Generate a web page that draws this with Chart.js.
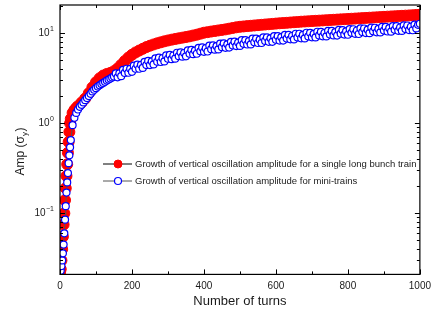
<!DOCTYPE html>
<html>
<head>
<meta charset="utf-8">
<script src="https://cdn.jsdelivr.net/npm/chart.js@4.4.1/dist/chart.umd.min.js"></script>
<style>
  html, body { margin: 0; padding: 0; background: #fff; }
  #wrap { width: 437px; height: 313px; position: relative; }
</style>
</head>
<body>
<div id="wrap"><canvas id="ampChart"></canvas></div>
<script>
// single long bunch train (red, filled)
const turnsLong = [0,2,4,6,8,10,12,14,16,18,20,22,24,26,28,30,35,40,45,50,
  60,70,80,90,100,110,120,130,140,150,160,170,180,190,200,210,220,230,240,250,
  260,270,280,290,300,310,320,330,340,350,360,370,380,390,400,410,420,430,440,450,
  460,470,480,490,500,510,520,530,540,550,560,570,580,590,600,610,620,630,640,650,
  660,670,680,690,700,710,720,730,740,750,760,770,780,790,800,810,820,830,840,850,
  860,870,880,890,900,910,920,930,940,950,960,970,980,990,1000];
const ampLongTrain = [0.022,0.024,0.03,0.04,0.055,0.075,0.1,0.14,0.19,0.26,0.35,0.47,0.62,0.8,1.0,1.12,
  1.3,1.4,1.48,1.55,
  1.7,1.88,2.15,2.5,2.85,3.15,3.38,3.52,3.62,3.78,
  4.05,4.45,4.9,5.35,5.75,6.1,6.4,6.7,7.0,7.25,
  7.48,7.7,7.9,8.1,8.28,8.45,8.6,8.75,8.9,9.05,
  9.2,9.4,9.6,9.85,10.1,10.25,10.4,10.55,10.7,10.85,
  11.0,11.2,11.4,11.6,11.75,11.85,11.95,12.05,12.15,12.25,
  12.35,12.45,12.55,12.65,12.75,12.85,12.93,13.0,13.1,13.2,
  13.28,13.38,13.45,13.52,13.6,13.68,13.75,13.82,13.9,13.97,
  14.05,14.12,14.2,14.28,14.35,14.43,14.5,14.58,14.66,14.74,
  14.82,14.9,14.98,15.06,15.14,15.22,15.3,15.38,15.46,15.54,
  15.62,15.7,15.8,15.9,16.0];

// mini-trains (blue, open), sampled more often
const turnsMini = [0,2,4,6,8,10,12,14,16,18,20,22,24,26,28,30,35,40,45,50,55,
  60,65,70,75,80,85,90,95,100,105,110,115,120,125,130,135,140,145,150,
  155,160,165,170,175,180,185,190,195,200,205,210,215,220,225,230,235,240,245,250,
  255,260,265,270,275,280,285,290,295,300,305,310,315,320,325,330,335,340,345,350,
  355,360,365,370,375,380,385,390,395,400,405,410,415,420,425,430,435,440,445,450,
  455,460,465,470,475,480,485,490,495,500,505,510,515,520,525,530,535,540,545,550,
  555,560,565,570,575,580,585,590,595,600,605,610,615,620,625,630,635,640,645,650,
  655,660,665,670,675,680,685,690,695,700,705,710,715,720,725,730,735,740,745,750,
  755,760,765,770,775,780,785,790,795,800,805,810,815,820,825,830,835,840,845,850,
  855,860,865,870,875,880,885,890,895,900,905,910,915,920,925,930,935,940,945,950,
  955,960,965,970,975,980,985,990,995,1000];
const ampMiniTrains = [0.021,0.023,0.026,0.03,0.036,0.045,0.06,0.085,0.12,0.17,0.22,0.28,0.36,0.44,0.54,0.65,
  0.95,1.15,1.3,1.42,1.52,
  1.6,1.7,1.8,1.9,2.0,2.12,2.25,2.35,2.45,2.55,2.63,2.72,2.8,2.88,2.97,3.05,3.13,3.22,3.3,
  3.57,3.23,3.58,3.33,3.91,3.61,4.02,3.63,4.01,3.72,
  4.35,4.02,4.46,4.02,4.44,4.11,4.8,4.42,4.91,4.42,
  4.86,4.49,5.24,4.81,5.33,4.78,5.26,4.85,5.65,5.19,
  5.73,5.14,5.64,5.2,6.05,5.54,6.12,5.48,6.01,5.53,
  6.44,5.9,6.51,5.84,6.4,5.9,6.85,6.28,6.93,6.2,
  6.79,6.25,7.25,6.63,7.31,6.54,7.16,6.58,7.64,6.98,
  7.69,6.87,7.51,6.9,8.0,7.3,8.04,7.18,7.85,7.21,
  8.35,7.61,8.37,7.47,8.16,7.49,8.67,7.91,8.69,7.76,
  8.46,7.76,8.97,8.18,8.98,8.01,8.74,8.01,9.26,8.44,
  9.27,8.26,9.01,8.26,9.55,8.7,9.56,8.52,9.29,8.51,
  9.83,8.95,9.83,8.75,9.54,8.73,10.09,9.19,10.08,8.98,
  9.78,8.96,10.35,9.42,10.34,9.2,10.03,9.18,10.6,9.65,
  10.58,9.42,10.26,9.38,10.83,9.86,10.81,9.62,10.47,9.58,
  11.06,10.06,11.03,9.81,10.68,9.77,11.28,10.26,11.25,10.01,
  10.9,9.97,11.51,10.47,11.47,10.21,11.11,10.16,11.73,10.67,
  11.7,10.41,11.33,10.36,11.96,10.87,11.92,10.6,11.54,10.56,
  12.18,11.08,12.14,10.8,11.76,10.75,12.41,11.28,12.36,12.7];

const seriesNames = [
  'Growth of vertical oscillation amplitude for a single long bunch train',
  'Growth of vertical oscillation amplitude for mini-trains'
];
const xTickStep = 200;
const yDecades = [0.1, 1, 10];

const FONT = 'Arial, "Liberation Sans", sans-serif';
const INK = '#1a1a1a';

// box, inward ticks, log labels, y title and legend
const framePlugin = {
  id: 'frame',
  afterDatasetsDraw(chart) {
    const ctx = chart.ctx;
    const a = chart.chartArea;
    const xs = chart.scales.x, ys = chart.scales.y;
    ctx.save();
    ctx.strokeStyle = '#000';
    ctx.lineWidth = 1.2;
    ctx.strokeRect(a.left, a.top, a.right - a.left, a.bottom - a.top);

    ctx.lineWidth = 1;
    ctx.beginPath();
    for (let t = 0; t <= 1000; t += 100) {
      const px = Math.round(xs.getPixelForValue(t)) + 0.5;
      const len = (t % 200 === 0) ? 5 : 3;
      ctx.moveTo(px, a.bottom); ctx.lineTo(px, a.bottom - len);
      ctx.moveTo(px, a.top); ctx.lineTo(px, a.top + len);
    }
    for (let d = 0.01; d < 100; d *= 10) {
      for (let k = 1; k <= 9; k++) {
        const v = d * k;
        if (v < ys.min || v > ys.max) continue;
        const py = Math.round(ys.getPixelForValue(v)) + 0.5;
        const len = k === 1 ? 5 : 3;
        ctx.moveTo(a.left, py); ctx.lineTo(a.left + len, py);
        ctx.moveTo(a.right, py); ctx.lineTo(a.right - len, py);
      }
    }
    ctx.stroke();

    // y tick labels 10^n
    ctx.fillStyle = INK;
    ctx.textBaseline = 'middle';
    yDecades.forEach(v => {
      const py = ys.getPixelForValue(v);
      const exp = String(Math.round(Math.log10(v))).replace('-', '\u2212');
      ctx.font = '7px ' + FONT;
      const ew = ctx.measureText(exp).width;
      const right = a.left - 6;
      ctx.textAlign = 'left';
      ctx.fillText(exp, right - ew, py - 4);
      ctx.font = '10px ' + FONT;
      ctx.textAlign = 'right';
      ctx.fillText('10', right - ew - 0.5, py);
    });

    // y title: Amp (σ_y)
    ctx.save();
    ctx.translate(21, (a.top + a.bottom) / 2 + 12);
    ctx.rotate(-Math.PI / 2);
    ctx.textAlign = 'left';
    ctx.textBaseline = 'middle';
    const big = '12px ' + FONT, small = '8px ' + FONT;
    ctx.font = big;
    const w1 = ctx.measureText('Amp (\u03c3').width;
    const w3 = ctx.measureText(')').width;
    ctx.font = small;
    const w2 = ctx.measureText('y').width;
    let x0 = -(w1 + w2 + w3) / 2;
    ctx.font = big;
    ctx.fillText('Amp (\u03c3', x0, 0);
    ctx.font = small;
    ctx.fillText('y', x0 + w1, 4);
    ctx.font = big;
    ctx.fillText(')', x0 + w1 + w2 + 0.5, 0);
    ctx.restore();

    // legend
    const rows = [164, 181];
    chart.data.datasets.forEach((ds, i) => {
      const y = rows[i];
      ctx.strokeStyle = ds.borderColor;
      ctx.lineWidth = 1;
      ctx.beginPath();
      ctx.moveTo(103, y); ctx.lineTo(132, y);
      ctx.stroke();
      ctx.beginPath();
      ctx.arc(118, y, i === 0 ? 4 : 3.5, 0, Math.PI * 2);
      ctx.fillStyle = ds.pointBackgroundColor;
      ctx.fill();
      ctx.strokeStyle = ds.pointBorderColor;
      ctx.lineWidth = ds.pointBorderWidth;
      ctx.stroke();
      ctx.fillStyle = INK;
      ctx.font = '9.5px ' + FONT;
      ctx.textAlign = 'left';
      ctx.textBaseline = 'middle';
      ctx.fillText(seriesNames[i], 135, y);
    });
    ctx.restore();
  }
};

const ctx = document.getElementById('ampChart').getContext('2d');
new Chart(ctx, {
  type: 'line',
  data: {
    datasets: [
      {
        label: seriesNames[0],
        data: turnsLong.map((t, i) => ({ x: t, y: ampLongTrain[i] })),
        borderColor: '#000',
        borderWidth: 1,
        pointRadius: 5.5,
        pointBackgroundColor: '#ff0000',
        pointBorderColor: '#ff0000',
        pointBorderWidth: 1,
        order: 1
      },
      {
        label: seriesNames[1],
        data: turnsMini.map((t, i) => ({ x: t, y: ampMiniTrains[i] })),
        borderColor: '#555',
        borderWidth: 1,
        pointRadius: 3.5,
        pointBackgroundColor: '#fff',
        pointBorderColor: '#0000ff',
        pointBorderWidth: 1.2,
        order: 0
      }
    ]
  },
  options: {
    responsive: true,
    maintainAspectRatio: false,
    animation: false,
    layout: { autoPadding: false, padding: { left: 60, right: 13, top: 5, bottom: 4 } },
    plugins: { legend: { display: false }, tooltip: { enabled: false } },
    scales: {
      x: {
        type: 'linear', min: 0, max: 1000,
        grid: { display: false, drawTicks: false },
        border: { display: false },
        ticks: { stepSize: xTickStep, maxRotation: 0, padding: 6, color: INK,
                 font: { family: FONT, size: 10 }, callback: v => String(v) },
        title: { display: true, text: 'Number of turns', color: INK, font: { family: FONT, size: 13 }, padding: { top: -5, bottom: 0 } }
      },
      y: {
        type: 'logarithmic', min: 0.021, max: 20.5,
        grid: { display: false, drawTicks: false },
        border: { display: false },
        ticks: { display: false }
      }
    }
  },
  plugins: [framePlugin]
});
</script>
</body>
</html>
